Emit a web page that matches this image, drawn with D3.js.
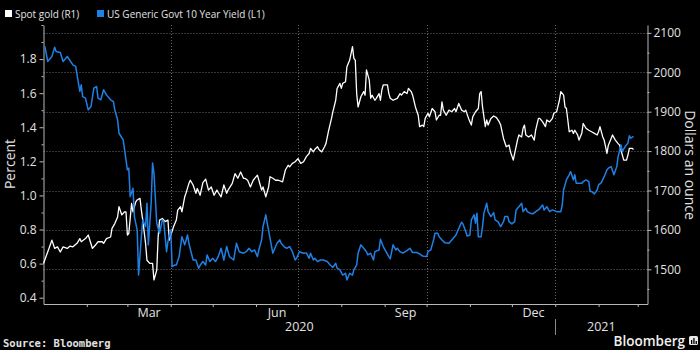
<!DOCTYPE html>
<html><head><meta charset="utf-8">
<script src="https://cdn.jsdelivr.net/npm/d3@7"></script>
<style>body{margin:0;background:#000;}svg{display:block;}</style>
</head><body>
<svg id="c" width="700" height="350"></svg>
<script>
// ---- data ----
const goldDates = ["2020-01-01","2020-01-04","2020-01-07","2020-01-09","2020-01-11","2020-01-13","2020-01-15","2020-01-18","2020-01-20","2020-01-22","2020-01-25","2020-01-27","2020-01-28","2020-01-31","2020-02-02","2020-02-05","2020-02-07","2020-02-09","2020-02-12","2020-02-13","2020-02-15","2020-02-18","2020-02-19","2020-02-21","2020-02-23","2020-02-24","2020-02-26","2020-02-28","2020-02-29","2020-03-01","2020-03-02","2020-03-04","2020-03-05","2020-03-07","2020-03-08","2020-03-10","2020-03-11","2020-03-12","2020-03-14","2020-03-15","2020-03-17","2020-03-19","2020-03-20","2020-03-22","2020-03-23","2020-03-24","2020-03-26","2020-03-28","2020-03-30","2020-03-31","2020-04-03","2020-04-05","2020-04-06","2020-04-08","2020-04-09","2020-04-11","2020-04-12","2020-04-14","2020-04-15","2020-04-17","2020-04-19","2020-04-20","2020-04-22","2020-04-24","2020-04-26","2020-04-28","2020-04-30","2020-05-02","2020-05-04","2020-05-05","2020-05-07","2020-05-09","2020-05-11","2020-05-12","2020-05-15","2020-05-17","2020-05-19","2020-05-21","2020-05-23","2020-05-24","2020-05-26","2020-05-28","2020-05-30","2020-06-02","2020-06-04","2020-06-05","2020-06-06","2020-06-08","2020-06-10","2020-06-11","2020-06-13","2020-06-15","2020-06-17","2020-06-20","2020-06-22","2020-06-24","2020-06-25","2020-06-27","2020-06-29","2020-07-01","2020-07-03","2020-07-05","2020-07-07","2020-07-09","2020-07-10","2020-07-12","2020-07-13","2020-07-15","2020-07-16","2020-07-18","2020-07-20","2020-07-21","2020-07-23","2020-07-25","2020-07-26","2020-07-28","2020-07-29","2020-07-31","2020-08-01","2020-08-02","2020-08-04","2020-08-05","2020-08-07","2020-08-09","2020-08-10","2020-08-11","2020-08-12","2020-08-13","2020-08-15","2020-08-17","2020-08-18","2020-08-19","2020-08-21","2020-08-22","2020-08-23","2020-08-25","2020-08-26","2020-08-28","2020-08-29","2020-08-30","2020-08-31","2020-09-03","2020-09-04","2020-09-05","2020-09-07","2020-09-10","2020-09-12","2020-09-13","2020-09-15","2020-09-17","2020-09-18","2020-09-20","2020-09-21","2020-09-23","2020-09-25","2020-09-26","2020-09-28","2020-09-29","2020-09-30","2020-10-02","2020-10-03","2020-10-05","2020-10-07","2020-10-08","2020-10-10","2020-10-11","2020-10-12","2020-10-13","2020-10-15","2020-10-17","2020-10-19","2020-10-21","2020-10-22","2020-10-24","2020-10-26","2020-10-28","2020-10-29","2020-10-31","2020-11-02","2020-11-03","2020-11-05","2020-11-07","2020-11-08","2020-11-09","2020-11-10","2020-11-12","2020-11-13","2020-11-14","2020-11-16","2020-11-18","2020-11-20","2020-11-22","2020-11-23","2020-11-25","2020-11-27","2020-11-29","2020-11-30","2020-12-02","2020-12-03","2020-12-05","2020-12-06","2020-12-08","2020-12-09","2020-12-10","2020-12-11","2020-12-13","2020-12-15","2020-12-17","2020-12-18","2020-12-20","2020-12-21","2020-12-23","2020-12-25","2020-12-26","2020-12-28","2020-12-30","2020-12-31","2021-01-02","2021-01-04","2021-01-05","2021-01-07","2021-01-08","2021-01-09","2021-01-10","2021-01-11","2021-01-13","2021-01-14","2021-01-15","2021-01-17","2021-01-18","2021-01-20","2021-01-21","2021-01-23","2021-01-25","2021-01-27","2021-01-29","2021-01-31","2021-02-01","2021-02-02","2021-02-04","2021-02-05","2021-02-07","2021-02-08","2021-02-10","2021-02-11","2021-02-13","2021-02-15","2021-02-16","2021-02-18","2021-02-19","2021-02-21","2021-02-22","2021-02-23","2021-02-25","2021-02-26"];
const goldValues = [1515,1544,1574,1553,1557,1544,1557,1553,1559,1557,1566,1578,1570,1578,1587,1553,1561,1570,1570,1566,1578,1582,1604,1616,1633,1659,1638,1646,1646,1587,1591,1667,1646,1671,1676,1680,1650,1625,1566,1523,1515,1515,1473,1498,1582,1625,1629,1621,1625,1574,1608,1625,1650,1659,1646,1684,1694,1718,1726,1714,1693,1705,1688,1720,1729,1701,1709,1688,1701,1695,1684,1714,1693,1701,1718,1743,1731,1747,1731,1731,1726,1709,1726,1739,1714,1701,1709,1684,1709,1735,1731,1726,1726,1722,1752,1764,1760,1769,1773,1781,1769,1773,1786,1794,1807,1798,1804,1811,1804,1798,1811,1819,1853,1883,1900,1929,1959,1972,1959,1972,1976,2014,2031,2065,2035,2031,1946,1912,1938,1951,1942,2006,1980,1934,1942,1929,1934,1946,1929,1955,1968,1968,1946,1934,1929,1934,1946,1942,1951,1946,1959,1951,1942,1912,1891,1862,1866,1862,1883,1896,1887,1908,1900,1879,1891,1891,1925,1904,1891,1904,1900,1908,1900,1921,1904,1900,1904,1883,1866,1887,1900,1908,1946,1951,1912,1862,1879,1866,1883,1889,1885,1874,1866,1832,1811,1815,1798,1777,1794,1828,1841,1836,1858,1866,1841,1836,1841,1828,1853,1883,1883,1874,1862,1879,1874,1883,1896,1900,1929,1951,1942,1912,1908,1879,1849,1853,1845,1853,1841,1828,1845,1870,1858,1853,1849,1845,1841,1849,1862,1836,1828,1794,1815,1832,1841,1828,1819,1815,1790,1777,1777,1790,1807,1807,1804];

const yieldDates = ["2020-01-02","2020-01-04","2020-01-07","2020-01-09","2020-01-10","2020-01-13","2020-01-15","2020-01-18","2020-01-22","2020-01-24","2020-01-25","2020-01-27","2020-01-28","2020-01-29","2020-01-31","2020-02-02","2020-02-04","2020-02-06","2020-02-08","2020-02-09","2020-02-11","2020-02-13","2020-02-15","2020-02-18","2020-02-20","2020-02-21","2020-02-23","2020-02-24","2020-02-27","2020-02-28","2020-03-01","2020-03-02","2020-03-03","2020-03-05","2020-03-06","2020-03-08","2020-03-09","2020-03-11","2020-03-12","2020-03-14","2020-03-15","2020-03-16","2020-03-18","2020-03-19","2020-03-20","2020-03-22","2020-03-24","2020-03-26","2020-03-27","2020-03-29","2020-03-30","2020-04-01","2020-04-02","2020-04-04","2020-04-05","2020-04-07","2020-04-09","2020-04-11","2020-04-13","2020-04-14","2020-04-17","2020-04-19","2020-04-21","2020-04-22","2020-04-24","2020-04-26","2020-04-27","2020-04-29","2020-05-01","2020-05-03","2020-05-05","2020-05-07","2020-05-09","2020-05-11","2020-05-13","2020-05-16","2020-05-18","2020-05-20","2020-05-23","2020-05-25","2020-05-27","2020-05-29","2020-05-31","2020-06-02","2020-06-03","2020-06-05","2020-06-06","2020-06-08","2020-06-09","2020-06-11","2020-06-13","2020-06-15","2020-06-16","2020-06-18","2020-06-19","2020-06-21","2020-06-23","2020-06-25","2020-06-27","2020-06-29","2020-06-30","2020-07-02","2020-07-05","2020-07-07","2020-07-09","2020-07-10","2020-07-12","2020-07-13","2020-07-15","2020-07-17","2020-07-19","2020-07-22","2020-07-24","2020-07-26","2020-07-28","2020-07-29","2020-07-31","2020-08-02","2020-08-04","2020-08-05","2020-08-07","2020-08-09","2020-08-10","2020-08-12","2020-08-13","2020-08-15","2020-08-17","2020-08-19","2020-08-20","2020-08-22","2020-08-24","2020-08-25","2020-08-28","2020-08-29","2020-08-31","2020-09-02","2020-09-04","2020-09-05","2020-09-07","2020-09-09","2020-09-10","2020-09-12","2020-09-14","2020-09-17","2020-09-19","2020-09-21","2020-09-24","2020-09-26","2020-09-28","2020-10-01","2020-10-02","2020-10-04","2020-10-06","2020-10-07","2020-10-09","2020-10-10","2020-10-12","2020-10-14","2020-10-17","2020-10-19","2020-10-22","2020-10-24","2020-10-26","2020-10-27","2020-10-29","2020-10-30","2020-11-01","2020-11-02","2020-11-04","2020-11-05","2020-11-06","2020-11-07","2020-11-09","2020-11-10","2020-11-11","2020-11-13","2020-11-14","2020-11-16","2020-11-18","2020-11-19","2020-11-21","2020-11-23","2020-11-25","2020-11-26","2020-11-28","2020-11-29","2020-12-01","2020-12-03","2020-12-04","2020-12-06","2020-12-08","2020-12-09","2020-12-11","2020-12-12","2020-12-14","2020-12-16","2020-12-18","2020-12-20","2020-12-23","2020-12-24","2020-12-26","2020-12-28","2020-12-30","2021-01-02","2021-01-05","2021-01-06","2021-01-07","2021-01-09","2021-01-11","2021-01-12","2021-01-14","2021-01-15","2021-01-16","2021-01-18","2021-01-20","2021-01-21","2021-01-23","2021-01-25","2021-01-26","2021-01-27","2021-01-29","2021-01-31","2021-02-01","2021-02-03","2021-02-05","2021-02-07","2021-02-08","2021-02-10","2021-02-12","2021-02-14","2021-02-15","2021-02-17","2021-02-18","2021-02-20","2021-02-22","2021-02-23","2021-02-24","2021-02-26"];
const yieldValues = [1.874,1.786,1.815,1.87,1.845,1.839,1.786,1.815,1.766,1.757,1.708,1.61,1.649,1.58,1.571,1.502,1.522,1.63,1.639,1.571,1.561,1.62,1.59,1.561,1.551,1.502,1.444,1.365,1.326,1.267,1.15,1.16,0.993,1.042,0.876,0.798,0.533,0.758,0.856,0.817,0.954,0.71,0.954,1.19,1.13,0.837,0.778,0.856,0.846,0.67,0.729,0.798,0.582,0.592,0.592,0.641,0.758,0.71,0.768,0.719,0.621,0.621,0.573,0.59,0.612,0.592,0.651,0.612,0.631,0.612,0.641,0.69,0.621,0.70,0.641,0.621,0.719,0.67,0.661,0.67,0.69,0.67,0.68,0.641,0.68,0.739,0.817,0.886,0.837,0.749,0.661,0.70,0.719,0.739,0.719,0.70,0.69,0.70,0.67,0.621,0.631,0.67,0.661,0.663,0.631,0.661,0.621,0.631,0.612,0.621,0.621,0.612,0.592,0.578,0.602,0.573,0.563,0.533,0.543,0.504,0.543,0.533,0.563,0.592,0.661,0.71,0.69,0.67,0.651,0.661,0.621,0.67,0.68,0.743,0.70,0.67,0.641,0.628,0.71,0.68,0.69,0.67,0.661,0.676,0.69,0.665,0.665,0.657,0.645,0.641,0.67,0.68,0.739,0.778,0.778,0.758,0.739,0.723,0.719,0.739,0.768,0.807,0.843,0.833,0.788,0.762,0.768,0.856,0.886,0.837,0.896,0.758,0.758,0.817,0.896,0.954,0.905,0.876,0.899,0.856,0.846,0.817,0.846,0.876,0.876,0.846,0.833,0.846,0.915,0.934,0.954,0.905,0.925,0.905,0.896,0.892,0.905,0.915,0.944,0.915,0.934,0.905,0.915,0.905,0.905,0.944,1.032,1.091,1.121,1.14,1.091,1.121,1.072,1.072,1.072,1.081,1.091,1.081,1.023,1.023,1.009,1.032,1.062,1.075,1.11,1.15,1.16,1.169,1.121,1.169,1.228,1.297,1.258,1.287,1.307,1.35,1.336,1.346];

const leftTicks = [0.4,0.6,0.8,1.0,1.2,1.4,1.6,1.8];
const leftMinorTicks = [0.5,0.7,0.9,1.1,1.3,1.5,1.7,1.9,2.0];
const rightTicks = [1500,1600,1700,1800,1900,2000,2100];
const rightMinorTicks = [1450,1550,1650,1750,1850,1950,2050];
const monthLabels = ["Mar","Jun","Sep","Dec"];
const monthLabelStarts = ["2020-03-01","2020-06-01","2020-09-01","2020-12-01"];
const gridDates = ["2020-04-01","2020-07-01","2020-10-01","2021-01-01"];
const yearLabels = ["2020","2021"];
const seriesNames = ["Spot gold (R1)","US Generic Govt 10 Year Yield (L1)"];

// ---- layout ----
const parse = d3.utcParse("%Y-%m-%d");
const X0 = 43.5, X1 = 647.5, Y0 = 25, Y1 = 304;
const start = parse("2020-01-01"), end = parse("2021-03-08");
const x = d3.scaleUtc().domain([start, end]).range([X0, X1]);
const yL = d3.scaleLinear().domain([0.363, 2.0]).range([Y1, Y0]);
const yR = d3.scaleLinear().domain([1412, 2120]).range([Y1, Y0]);

const FONT = "'Open Sans', 'Noto Sans', sans-serif";
const AXC = "#b8b8b8", TXT = "#e2e2e2", GRID = "#6a6a6a";
const BLUE = "#1f80e6";

const svg = d3.select("#c");
svg.append("rect").attr("width",700).attr("height",350).attr("fill","#000");

// gridlines
svg.append("g").selectAll("line").data(rightTicks).join("line")
  .attr("x1", X0).attr("x2", X1)
  .attr("y1", d => Math.round(yR(d)) + 0.5).attr("y2", d => Math.round(yR(d)) + 0.5)
  .attr("stroke", GRID).attr("stroke-width", 1).attr("stroke-dasharray", "1,2");
svg.append("g").selectAll("line").data(gridDates.map(parse)).join("line")
  .attr("x1", d => Math.round(x(d)) + 0.5).attr("x2", d => Math.round(x(d)) + 0.5)
  .attr("y1", Y0).attr("y2", Y1)
  .attr("stroke", GRID).attr("stroke-width", 1).attr("stroke-dasharray", "1,2");

function styleAxis(g, showDomain) {
  g.selectAll("path.domain").attr("stroke", AXC).attr("stroke-width", 1);
  if (!showDomain) g.select("path.domain").remove();
  g.selectAll(".tick line").attr("stroke", AXC);
  g.selectAll(".tick text").attr("fill", TXT).attr("font-family", FONT).attr("font-size", "12px");
}

// left axis
const gL = svg.append("g").attr("transform", `translate(${X0},0)`)
  .call(d3.axisLeft(yL).tickValues(leftTicks).tickFormat(d3.format(".1f")).tickSize(4).tickSizeOuter(0).tickPadding(3));
styleAxis(gL, true);
const gLm = svg.append("g").attr("transform", `translate(${X0},0)`)
  .call(d3.axisLeft(yL).tickValues(leftMinorTicks).tickFormat("").tickSize(2).tickSizeOuter(0));
styleAxis(gLm, false);

// right axis
const gR = svg.append("g").attr("transform", `translate(${X1},0)`)
  .call(d3.axisRight(yR).tickValues(rightTicks).tickFormat(d3.format("d")).tickSize(4).tickSizeOuter(0).tickPadding(2));
styleAxis(gR, true);
const gRm = svg.append("g").attr("transform", `translate(${X1},0)`)
  .call(d3.axisRight(yR).tickValues(rightMinorTicks).tickFormat("").tickSize(2).tickSizeOuter(0));
styleAxis(gRm, false);

// bottom axis
const monthTicks = d3.utcMonth.range(parse("2020-02-01"), parse("2021-03-02"));
const gB = svg.append("g").attr("transform", `translate(0,${Y1})`)
  .call(d3.axisBottom(x).tickValues(monthTicks).tickFormat("").tickSize(3).tickSizeOuter(0));
styleAxis(gB, true);

// month labels
svg.append("g").selectAll("text").data(monthLabelStarts.map(parse)).join("text")
  .attr("x", d => (x(d) + x(d3.utcMonth.offset(d, 1))) / 2)
  .attr("y", 317)
  .attr("text-anchor", "middle").attr("fill", TXT)
  .attr("font-family", FONT).attr("font-size", "12.5px")
  .text((d, i) => monthLabels[i]);

// year labels
const yearSpans = yearLabels.map(y => {
  const a = d3.max([parse(y + "-01-01"), start]);
  const b = d3.min([parse((+y + 1) + "-01-01"), end]);
  return (x(a) + x(b)) / 2;
});
svg.append("g").selectAll("text").data(yearLabels).join("text")
  .attr("x", (d, i) => yearSpans[i]).attr("y", 331)
  .attr("text-anchor", "middle").attr("fill", TXT)
  .attr("font-family", FONT).attr("font-size", "12.5px")
  .text(d => d);
const sepX = Math.round(x(parse("2021-01-01"))) + 0.5;
svg.append("line").attr("x1", sepX).attr("x2", sepX).attr("y1", 319).attr("y2", 335)
  .attr("stroke", "#8a8a8a").attr("stroke-width", 1);

// axis titles
svg.append("text").attr("transform", "translate(15,164) rotate(-90)")
  .attr("text-anchor", "middle").attr("fill", TXT)
  .attr("font-family", FONT).attr("font-size", "14px").text("Percent");
svg.append("text").attr("transform", "translate(685,165) rotate(90)")
  .attr("text-anchor", "middle").attr("fill", TXT)
  .attr("font-family", FONT).attr("font-size", "14px").text("Dollars an ounce");

// lines
const gold = goldDates.map((d, i) => ({ date: parse(d), v: goldValues[i] }));
const yld = yieldDates.map((d, i) => ({ date: parse(d), v: yieldValues[i] }));
svg.append("path").datum(gold)
  .attr("fill", "none").attr("stroke", "#ffffff").attr("stroke-width", 1.3).attr("stroke-linejoin", "round")
  .attr("d", d3.line().x(d => x(d.date)).y(d => yR(d.v)));
svg.append("path").datum(yld)
  .attr("fill", "none").attr("stroke", BLUE).attr("stroke-width", 1.5).attr("stroke-linejoin", "round")
  .attr("d", d3.line().x(d => x(d.date)).y(d => yL(d.v)));

// legend
const legendColors = ["#ffffff", BLUE];
const legendX = [5, 97];
const lg = svg.append("g");
seriesNames.forEach((n, i) => {
  lg.append("rect").attr("x", legendX[i]).attr("y", 10).attr("width", 7).attr("height", 7).attr("fill", legendColors[i]);
  lg.append("text").attr("x", legendX[i] + 10).attr("y", 17.5).attr("fill", TXT)
    .attr("font-family", FONT).attr("font-size", "10px").text(n);
});

// footer
svg.append("text").attr("x", 3).attr("y", 347).attr("fill", TXT)
  .attr("font-family", "'DejaVu Sans Mono', monospace").attr("font-weight", "bold")
  .attr("font-size", "10.5px").text("Source: Bloomberg");
svg.append("text").attr("x", 685).attr("y", 346).attr("text-anchor", "end").attr("fill", "#f0f0f0")
  .attr("font-family", FONT).attr("font-weight", "600").attr("font-size", "13.5px").text("Bloomberg");
const logo = svg.append("g").attr("transform", "translate(689,336)");
logo.append("rect").attr("width", 9).attr("height", 9).attr("rx", 1.5).attr("fill", "#e8e8e8");
[[2,4,1.3,4],[4.3,2,1.3,6],[6.6,5,1.3,3]].forEach(b =>
  logo.append("rect").attr("x", b[0]).attr("y", b[1]).attr("width", b[2]).attr("height", b[3]).attr("fill", "#000"));
</script>
</body></html>
